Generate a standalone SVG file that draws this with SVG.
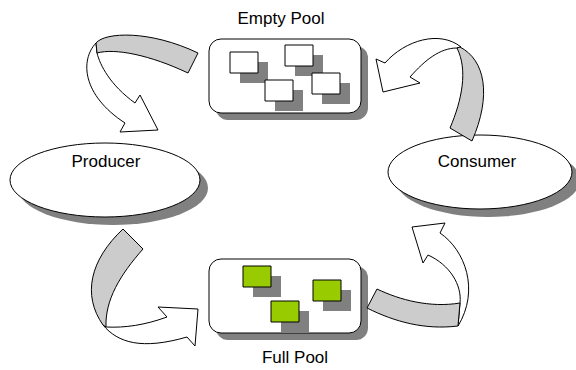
<svg xmlns="http://www.w3.org/2000/svg" width="576" height="370" viewBox="0 0 576 370">
<style>
.sh{fill:#808080;stroke:none}
.ln{stroke:#000;stroke-width:1;stroke-linejoin:round}
.w{fill:#fff}
.g{fill:#cccccc}
.gr{fill:#99cc00}
.t{font-family:"Liberation Sans",Arial,sans-serif;font-size:17px;fill:#000;text-anchor:middle}
</style>
<rect width="576" height="370" fill="#fff"/>
<g id="producer">
<ellipse class="sh" cx="113" cy="188" rx="95" ry="37"/>
<ellipse class="w ln" cx="105" cy="180" rx="95" ry="37"/>
<text class="t" x="106" y="167">Producer</text>
</g>
<g id="consumer">
<ellipse class="sh" cx="488" cy="180" rx="92" ry="37"/>
<ellipse class="w ln" cx="480" cy="172" rx="92" ry="37"/>
<text class="t" x="477" y="167">Consumer</text>
</g>
<g id="empty-pool">
<rect class="sh" x="216" y="46" width="152" height="74" rx="12"/>
<rect class="w ln" x="209" y="39" width="152" height="74" rx="12"/>
<rect class="sh" x="240" y="62" width="28" height="21"/>
<rect class="w ln" x="230" y="52" width="28" height="21"/>
<rect class="sh" x="295" y="55" width="28" height="21"/>
<rect class="w ln" x="285" y="45" width="28" height="21"/>
<rect class="sh" x="275" y="90" width="28" height="21"/>
<rect class="w ln" x="265" y="80" width="28" height="21"/>
<rect class="sh" x="322" y="83" width="28" height="21"/>
<rect class="w ln" x="312" y="73" width="28" height="21"/>
<text class="t" x="281" y="24">Empty Pool</text>
</g>
<g id="full-pool">
<rect class="sh" x="216" y="266" width="152" height="74" rx="12"/>
<rect class="w ln" x="209" y="259" width="152" height="74" rx="12"/>
<rect class="sh" x="253" y="276" width="28" height="21"/>
<rect class="gr ln" x="243" y="266" width="28" height="21"/>
<rect class="sh" x="323" y="290" width="28" height="21"/>
<rect class="gr ln" x="313" y="280" width="28" height="21"/>
<rect class="sh" x="281" y="311" width="28" height="21"/>
<rect class="gr ln" x="271" y="301" width="28" height="21"/>
<text class="t" x="295" y="363">Full Pool</text>
</g>
<g id="connectors">
<path class="w ln" d="M96,43 C80,60 82,95 125,123 L120,132 L158,130 L140,95 L135,103 C110,85 100,65 97,53 Z"/>
<path class="g ln" d="M96,43 C105,32 150,30 198,53 L188,73 C150,55 115,48 97,53 Z"/>
<path class="w ln" d="M461,47 C440,30 405,40 385,63 L376,59 L383,92 L420,83 L410,77 C425,60 440,48 457,48 Z"/>
<path class="g ln" d="M460,47 C485,60 492,95 472,141 L450,128 C462,100 468,70 457,48 Z"/>
<path class="w ln" d="M103,325 C118,343 142,350 187,337 L195,346 L198,309 L158,307 L167,317 C145,325 125,328 106,327 Z"/>
<path class="g ln" d="M123,229 L143,249 C120,275 105,300 106,327 L103,325 C82,295 90,260 123,229 Z"/>
<path class="w ln" d="M460,303 C462,285 450,265 428,255 L423,263 L412,227 L445,223 L440,233 C465,250 480,290 458,326 Z"/>
<path class="g ln" d="M377,289 C400,300 430,308 460,303 L458,326 C425,330 395,322 367,308 Z"/>
</g>
</svg>
